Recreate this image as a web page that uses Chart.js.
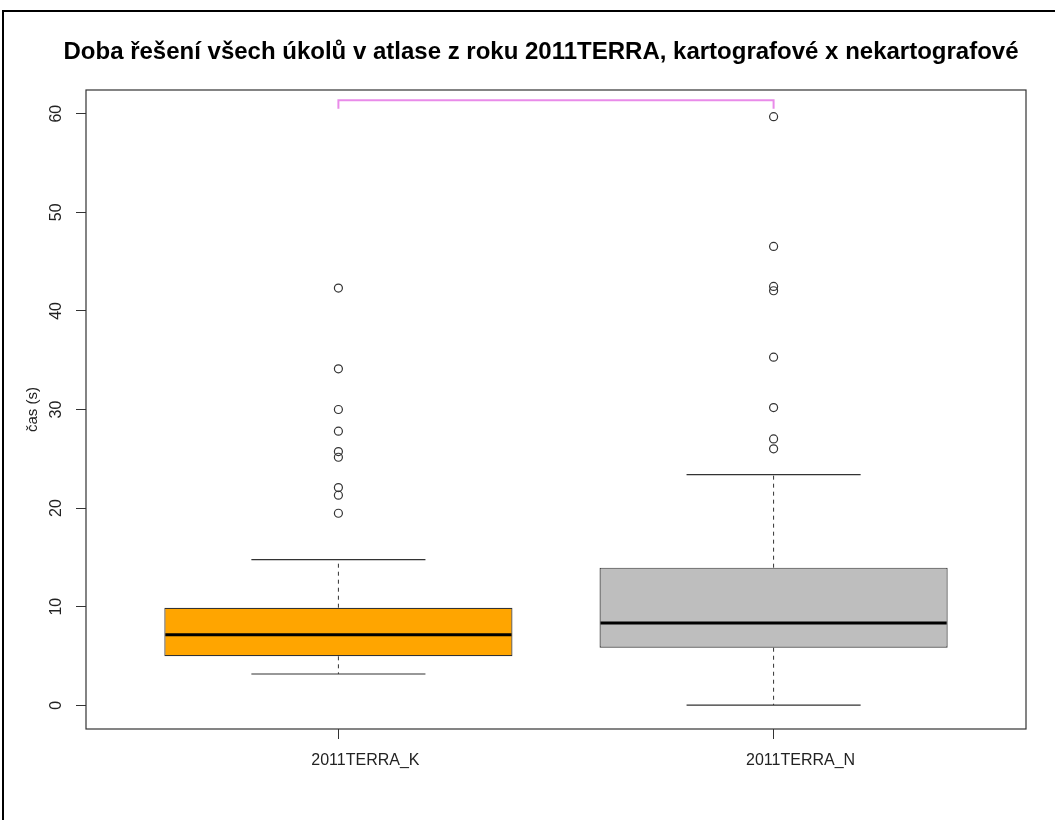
<!DOCTYPE html>
<html>
<head>
<meta charset="utf-8">
<script src="https://cdn.jsdelivr.net/npm/chart.js@4/dist/chart.umd.min.js"></script>
<style>
  body { margin: 0; background: #fff; }
  canvas { display: block; }
</style>
</head>
<body>
<canvas id="boxChart" width="1055" height="820"></canvas>
<script>
// task time (s) per group, five-number summaries + outliers
const groups = ['2011TERRA_K', '2011TERRA_N'];
const whiskerLow = [3.18, 0.03];
const q1 = [4.97, 5.84];
const medians = [7.16, 8.35];
const q3 = [9.90, 13.96];
const whiskerHigh = [14.77, 23.40];
const outliersK = [19.48, 21.31, 22.08, 25.16, 25.73, 27.80, 30.00, 34.12, 42.31];
const outliersN = [26.01, 27.02, 30.20, 35.31, 42.04, 42.48, 46.54, 59.69];
const yTicks = [0, 10, 20, 30, 40, 50, 60];
const boxColors = ['#FFA500', '#BEBEBE'];
// significance bracket between the two groups: top line and end ticks
const bracketTop = 61.35;
const bracketEnd = 60.5;

const titleText = 'Doba řešení všech úkolů v atlase z roku 2011TERRA, kartografové x nekartografové';
const yTitle = 'čas (s)';
const font = '"Liberation Sans", Arial, sans-serif';

const boxData = groups.map((g, i) => ({ x: i + 1, y: [q1[i], q3[i]] }));
const outlierData = []
outliersK.forEach(v => outlierData.push({ x: 1, y: v }));
outliersN.forEach(v => outlierData.push({ x: 2, y: v }));

const boxParts = {
  id: 'boxParts',
  beforeDraw(chart) {
    const ctx = chart.ctx;
    ctx.save();
    ctx.fillStyle = '#fff';
    ctx.fillRect(0, 0, chart.width, chart.height);
    // outer frame (left + top)
    ctx.strokeStyle = '#000';
    ctx.lineWidth = 2;
    ctx.beginPath();
    ctx.moveTo(3, chart.height);
    ctx.lineTo(3, 11);
    ctx.lineTo(chart.width, 11);
    ctx.stroke();
    ctx.restore();
  },
  afterDatasetsDraw(chart) {
    const ctx = chart.ctx;
    const xs = chart.scales.x, ys = chart.scales.y;
    ctx.save();
    groups.forEach((g, i) => {
      const c = i + 1;
      const xc = xs.getPixelForValue(c);
      // dashed whiskers
      ctx.strokeStyle = '#333';
      ctx.lineWidth = 1;
      ctx.setLineDash([4, 4]);
      ctx.beginPath();
      ctx.moveTo(xc, ys.getPixelForValue(q3[i]));
      ctx.lineTo(xc, ys.getPixelForValue(whiskerHigh[i]));
      ctx.moveTo(xc, ys.getPixelForValue(q1[i]));
      ctx.lineTo(xc, ys.getPixelForValue(whiskerLow[i]));
      ctx.stroke();
      ctx.setLineDash([]);
      // caps
      ctx.lineWidth = 1.2;
      ctx.beginPath();
      [whiskerHigh[i], whiskerLow[i]].forEach(v => {
        const y = ys.getPixelForValue(v);
        ctx.moveTo(xs.getPixelForValue(c - 0.2), y);
        ctx.lineTo(xs.getPixelForValue(c + 0.2), y);
      });
      ctx.stroke();
      // median
      ctx.strokeStyle = '#000';
      ctx.lineWidth = 3;
      ctx.beginPath();
      const ym = ys.getPixelForValue(medians[i]);
      ctx.moveTo(xs.getPixelForValue(c - 0.4) + 1, ym);
      ctx.lineTo(xs.getPixelForValue(c + 0.4) - 1, ym);
      ctx.stroke();
    });
    // bracket
    ctx.strokeStyle = '#E98BE9';
    ctx.lineWidth = 2;
    ctx.beginPath();
    ctx.moveTo(xs.getPixelForValue(1), ys.getPixelForValue(bracketEnd));
    ctx.lineTo(xs.getPixelForValue(1), ys.getPixelForValue(bracketTop));
    ctx.lineTo(xs.getPixelForValue(2), ys.getPixelForValue(bracketTop));
    ctx.lineTo(xs.getPixelForValue(2), ys.getPixelForValue(bracketEnd));
    ctx.stroke();
    ctx.restore();
  },
  afterDraw(chart) {
    const ctx = chart.ctx;
    const a = chart.chartArea;
    const xs = chart.scales.x, ys = chart.scales.y;
    ctx.save();
    // plot frame
    ctx.strokeStyle = '#333';
    ctx.lineWidth = 1.2;
    ctx.strokeRect(a.left, a.top, a.right - a.left, a.bottom - a.top);
    // title
    ctx.fillStyle = '#000';
    ctx.font = 'bold 24px ' + font;
    ctx.textAlign = 'center';
    ctx.textBaseline = 'middle';
    ctx.fillText(titleText, 541, 52);
    // group names, set a little right of their ticks
    ctx.fillStyle = '#222';
    ctx.font = '16px ' + font;
    groups.forEach((g, i) => {
      ctx.fillText(g, xs.getPixelForValue(i + 1) + 27, 761);
    });
    // rotated y tick labels and axis title
    yTicks.forEach(v => {
      ctx.save();
      ctx.translate(57, ys.getPixelForValue(v));
      ctx.rotate(-Math.PI / 2);
      ctx.fillText(String(v), 0, 0);
      ctx.restore();
    });
    ctx.font = '15px ' + font;
    ctx.translate(33, (a.top + a.bottom) / 2);
    ctx.rotate(-Math.PI / 2);
    ctx.fillText(yTitle, 0, 0);
    ctx.restore();
  }
};

new Chart(document.getElementById('boxChart'), {
  type: 'bar',
  data: {
    datasets: [
      {
        type: 'bar',
        data: boxData,
        backgroundColor: boxColors,
        borderColor: '#333',
        borderWidth: 1.2,
        borderSkipped: false,
        barPercentage: 1,
        categoryPercentage: 0.8
      },
      {
        type: 'scatter',
        data: outlierData,
        pointRadius: 4,
        pointStyle: 'circle',
        backgroundColor: 'rgba(0,0,0,0)',
        borderColor: '#333',
        borderWidth: 1.2
      }
    ]
  },
  options: {
    responsive: false,
    animation: false,
    devicePixelRatio: 1,
    layout: { padding: { top: 90, right: 29, left: 0, bottom: 0 } },
    plugins: {
      legend: { display: false },
      tooltip: { enabled: false },
      title: { display: false }
    },
    scales: {
      x: {
        type: 'linear',
        offset: false,
        min: 0.42,
        max: 2.58,
        afterBuildTicks: s => { s.ticks = groups.map((g, i) => ({ value: i + 1 })); },
        afterFit: s => { s.height = 91; },
        ticks: { display: false },
        grid: { offset: false, drawOnChartArea: false, tickLength: 10, color: '#333' },
        border: { display: false }
      },
      y: {
        min: -2.4,
        max: 62.4,
        afterBuildTicks: s => { s.ticks = yTicks.map(v => ({ value: v })); },
        afterFit: s => { s.width = 86; },
        ticks: { display: false },
        grid: { drawOnChartArea: false, tickLength: 10, color: '#333' },
        border: { display: false }
      }
    }
  },
  plugins: [boxParts]
});
</script>
</body>
</html>
